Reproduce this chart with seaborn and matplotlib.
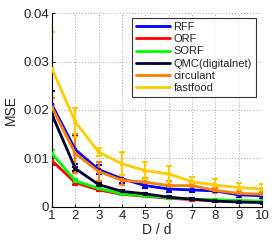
import matplotlib
matplotlib.use("Agg")
import matplotlib.pyplot as plt
import seaborn as sns
import pandas as pd

# D / d ratio
ratio = [1, 2, 3, 4, 5, 6, 7, 8, 9, 10]

rff = [0.0210, 0.0118, 0.0077, 0.0058, 0.0044, 0.0037, 0.0035, 0.0033, 0.0025, 0.0023]
orf = [0.0095, 0.0050, 0.0035, 0.0026, 0.0022, 0.0018, 0.0015, 0.0013, 0.0012, 0.0011]
sorf = [0.0110, 0.0054, 0.0038, 0.0027, 0.0023, 0.0019, 0.0016, 0.0015, 0.0013, 0.0012]
qmc = [0.0190, 0.0079, 0.0046, 0.0032, 0.0027, 0.0020, 0.0016, 0.0012, 0.0010, 0.0009]
circulant = [0.0205, 0.0110, 0.0073, 0.0055, 0.0051, 0.0044, 0.0044, 0.0034, 0.0028, 0.0026]
fastfood = [0.0285, 0.0175, 0.0113, 0.0089, 0.0075, 0.0068, 0.0052, 0.0045, 0.0040, 0.0037]

rff_err = [0.0030, 0.0030, 0.0010, 0.0008, 0.0006, 0.0006, 0.0005, 0.0005, 0.0004, 0.0004]
orf_err = [0.0008, 0.0004, 0.0003, 0.0002, 0.0002, 0.0002, 0.0002, 0.0001, 0.0001, 0.0001]
sorf_err = [0.0008, 0.0004, 0.0003, 0.0002, 0.0002, 0.0002, 0.0002, 0.0001, 0.0001, 0.0001]
qmc_err = [0.0006, 0.0004, 0.0003, 0.0002, 0.0002, 0.0002, 0.0002, 0.0001, 0.0001, 0.0001]
circ_err = [0.0020, 0.0040, 0.0019, 0.0010, 0.0008, 0.0010, 0.0006, 0.0005, 0.0005, 0.0005]
ff_err = [0.0075, 0.0030, 0.0008, 0.0024, 0.0017, 0.0017, 0.0010, 0.0013, 0.0010, 0.0010]

names = ["RFF", "ORF", "SORF", "QMC(digitalnet)", "circulant", "fastfood"]
series = [rff, orf, sorf, qmc, circulant, fastfood]
errs = [rff_err, orf_err, sorf_err, qmc_err, circ_err, ff_err]
colors = ["#0000ff", "#ff0000", "#00ff00", "#000033", "#ff8000", "#ffcc00"]

rows = []
for name, vals in zip(names, series):
    for r, v in zip(ratio, vals):
        rows.append({"D / d": r, "MSE": v, "method": name})
df = pd.DataFrame(rows)

sns.set_style("white")
plt.rcParams['font.family'] = ['Liberation Sans', 'DejaVu Sans']

fig = plt.figure(figsize=(2.74, 2.42), dpi=100)
ax = fig.add_axes([0.19, 0.145, 0.766, 0.801])

for name, vals, err, c in zip(names, series, errs, colors):
    ax.errorbar(ratio, vals, yerr=err, fmt="none", ecolor=c, elinewidth=1.5,
                capsize=2.5, capthick=1.5, zorder=2)

sns.lineplot(data=df, x="D / d", y="MSE", hue="method", hue_order=names,
             palette=colors, marker="s", markersize=3.5, markeredgewidth=0,
             linewidth=2, ax=ax, zorder=3)

ax.set_xlim(1, 10)
ax.set_ylim(0, 0.04)
ax.set_xticks(ratio)
ax.set_yticks([0, 0.01, 0.02, 0.03, 0.04])
ax.set_yticklabels(["0", "0.01", "0.02", "0.03", "0.04"])
ax.grid(True, linestyle=":", color="#b0b0b0", linewidth=0.8)
for s in ["top", "right"]:
    ax.spines[s].set_visible(False)
for s in ["left", "bottom"]:
    ax.spines[s].set_color("black")
    ax.spines[s].set_linewidth(0.8)
ax.tick_params(axis="both", labelsize=9.5, length=2, direction="in", left=True, bottom=True, pad=2)
ax.set_xlabel("D / d", fontsize=10, labelpad=1)
ax.set_ylabel("MSE", fontsize=10, labelpad=4)

leg = ax.legend(loc="upper right", fontsize=8, frameon=True, fancybox=False,
                handlelength=3.1, handletextpad=0.3, labelspacing=0.2,
                borderpad=0.35, borderaxespad=0, bbox_to_anchor=(0.971, 0.974))
leg.get_frame().set_edgecolor("black")
leg.get_frame().set_linewidth(0.8)
for h in leg.get_lines():
    h.set_marker("")
    h.set_linewidth(2)

fig.savefig("out.png", dpi=100)
